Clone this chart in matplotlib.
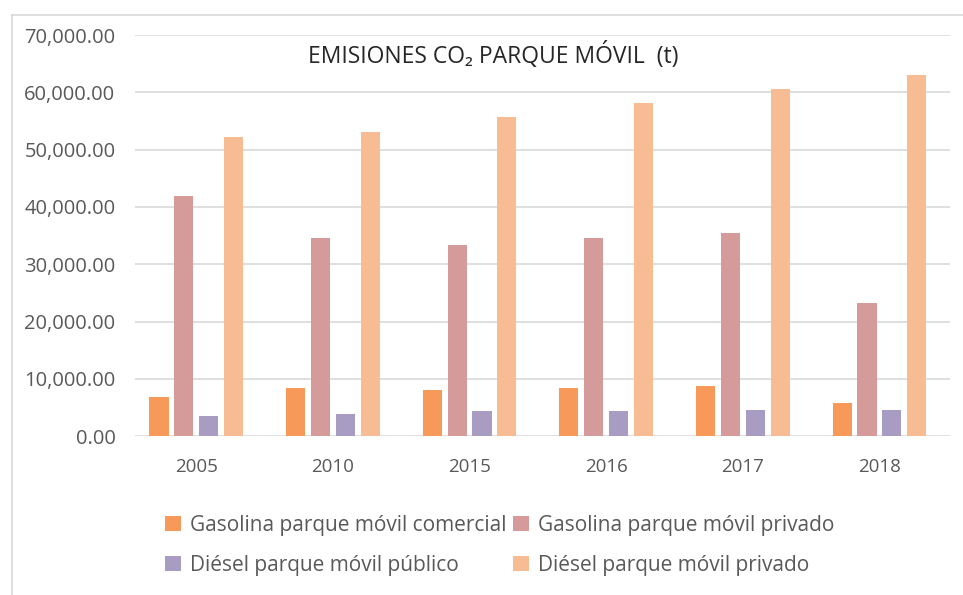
import matplotlib.pyplot as plt
import numpy as np
from matplotlib.patches import Patch
from matplotlib.ticker import FuncFormatter
from matplotlib.lines import Line2D

years = ['2005', '2010', '2015', '2016', '2017', '2018']
gas_comercial = [6800, 8400, 8100, 8400, 8700, 5700]
gas_privado = [42000, 34600, 33300, 34600, 35400, 23200]
diesel_publico = [3500, 3800, 4400, 4400, 4500, 4600]
diesel_privado = [52300, 53000, 55700, 58100, 60600, 63000]

series = [
    ('Gasolina parque móvil comercial', gas_comercial, '#F79A59'),
    ('Gasolina parque móvil privado', gas_privado, '#D59B9B'),
    ('Diésel parque móvil público', diesel_publico, '#A89CC3'),
    ('Diésel parque móvil privado', diesel_privado, '#F8BC95'),
]

plt.rcParams['font.family'] = ['Open Sans', 'DejaVu Sans']

fig = plt.figure(figsize=(9.63, 5.95), dpi=100)
ax = fig.add_axes([0.14, 0.267, 0.847, 0.674])

x = np.arange(len(years))
step = 0.182
width = 0.14
for i, (name, vals, col) in enumerate(series):
    ax.bar(x + (i - 1.5) * step, vals, width, color=col, label=name, zorder=3)

ax.set_ylim(0, 70000)
ax.set_xlim(-0.45, len(years) - 0.48)
ax.set_yticks(np.arange(0, 70001, 10000))
ax.yaxis.set_major_formatter(FuncFormatter(lambda v, p: f'{v:,.2f}'))
ax.set_xticks(x)
ax.set_xticklabels(years)
ax.grid(axis='y', color='#D9D9D9', linewidth=1.2, zorder=0)
for s in ax.spines.values():
    s.set_visible(False)
ax.tick_params(axis='both', length=0, colors='#595959')
ax.tick_params(axis='y', pad=14, labelsize=14.5)
ax.tick_params(axis='x', pad=16, labelsize=13.5)

ax.text(0.44, 0.95, 'EMISIONES CO₂ PARQUE MÓVIL  (t)', transform=ax.transAxes,
        ha='center', va='center', fontsize=16.5, color='#262626')

# column-major order so the rows read like the original
handles = [Patch(facecolor=c, label=n) for n, _, c in series]
handles = [handles[0], handles[2], handles[1], handles[3]]
fig.legend(handles=handles, loc='upper left', bbox_to_anchor=(0.152, 0.166),
           ncol=2, frameon=False, fontsize=15, labelcolor='#595959',
           handlelength=0.75, handleheight=0.75, handletextpad=0.45,
           columnspacing=0.3, labelspacing=0.9)

# outer chart border (left and top)
fig.add_artist(Line2D([0.0125, 0.0125], [0, 0.975], color='#D9D9D9', lw=1.2))
fig.add_artist(Line2D([0.0125, 1.0], [0.975, 0.975], color='#D9D9D9', lw=1.2))

fig.savefig('out.png', dpi=100, facecolor='white')
